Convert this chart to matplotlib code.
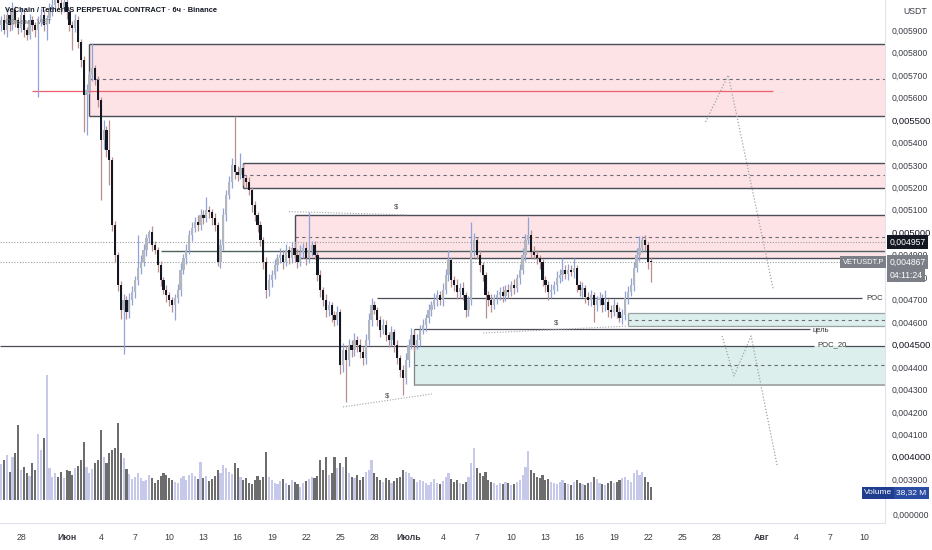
import matplotlib
matplotlib.use("Agg")
import matplotlib.pyplot as plt
import matplotlib.dates as mdates
from matplotlib.patches import Rectangle
from matplotlib.ticker import FixedLocator, FuncFormatter
import pandas as pd

plt.rcParams["font.family"] = ["Liberation Sans Narrow", "Liberation Sans", "DejaVu Sans"]

# 6h candles, prices in 1e-6 USDT
first_open = 5923
closes = [
    5945, 5901, 5968, 5923, 5990, 5945, 5910, 5968, 5901, 5879, 5945, 5923, 5901, 5937, 5968, 5923, 5954, 5990, 6012, 6034,
    6021, 5999, 6026, 5981, 5923, 5910, 5945, 5847, 5767, 5611, 5634, 5700, 5732, 5678, 5589, 5411, 5455, 5366, 5322, 5032,
    4899, 4765, 4654, 4698, 4645, 4698, 4734, 4787, 4841, 4868, 4921, 4974, 5001, 4943, 4921, 4854, 4787, 4743, 4720, 4698,
    4676, 4707, 4743, 4832, 4885, 4921, 4988, 5019, 5046, 5032, 5077, 5064, 5099, 5090, 5064, 5032, 4868, 4943, 5077, 5166,
    5224, 5300, 5268, 5255, 5286, 5242, 5224, 5188, 5121, 5077, 5032, 4966, 4868, 4743, 4787, 4810, 4854, 4885, 4899, 4868,
    4921, 4885, 4930, 4899, 4868, 4912, 4930, 4885, 4921, 4943, 4899, 4810, 4743, 4698, 4654, 4676, 4631, 4609, 4645, 4409,
    4476, 4431, 4498, 4476, 4520, 4498, 4467, 4440, 4520, 4609, 4676, 4654, 4609, 4565, 4587, 4542, 4520, 4556, 4498, 4440,
    4387, 4351, 4431, 4498, 4542, 4498, 4520, 4565, 4587, 4618, 4654, 4676, 4698, 4720, 4698, 4743, 4810, 4876, 4787, 4765,
    4734, 4752, 4720, 4654, 4698, 4921, 4966, 4899, 4854, 4810, 4720, 4698, 4676, 4707, 4720, 4734, 4716, 4743, 4734, 4765,
    4752, 4796, 4832, 4899, 4966, 4988, 4912, 4899, 4885, 4868, 4787, 4765, 4734, 4743, 4765, 4796, 4810, 4832, 4814, 4832,
    4823, 4841, 4765, 4743, 4752, 4712, 4698, 4720, 4676, 4698, 4707, 4676, 4689, 4654, 4645, 4676, 4645, 4618, 4631, 4707,
    4734, 4765, 4841, 4899, 4930, 4966, 4943, 4868, 4867,
]
upper_wick = [
    20, 25, 30, 20, 35, 20, 15, 30, 20, 15, 25, 20, 15, 25, 30, 20, 15, 30, 25, 40,
    25, 20, 30, 20, 15, 20, 25, 20, 15, 20, 25, 20, 111, 15, 20, 15, 45, 20, 134, 15,
    20, 15, 20, 25, 20, 30, 25, 20, 147, 30, 25, 20, 9, 25, 20, 15, 20, 15, 20, 15,
    15, 20, 25, 30, 20, 25, 20, 25, 20, 30, 25, 20, 58, 20, 15, 20, 15, 25, 30, 20,
    25, 30, 218, 25, 67, 20, 15, 20, 15, 20, 15, 20, 15, 20, 25, 20, 25, 20, 30, 20,
    25, 20, 25, 20, 25, 30, 20, 25, 169, 20, 20, 15, 20, 15, 25, 20, 15, 20, 25, 15,
    30, 20, 25, 20, 30, 20, 25, 20, 25, 30, 31, 20, 15, 20, 25, 20, 15, 25, 15, 20,
    15, 20, 30, 25, 30, 20, 25, 20, 25, 20, 25, 20, 30, 25, 20, 30, 25, 45, 15, 20,
    25, 20, 25, 15, 20, 125, 30, 15, 20, 15, 15, 20, 25, 20, 25, 20, 25, 20, 25, 20,
    25, 20, 25, 30, 25, 80, 20, 25, 20, 15, 15, 20, 20, 25, 20, 30, 25, 53, 20, 25,
    20, 44, 15, 20, 25, 15, 20, 25, 15, 20, 25, 20, 54, 15, 20, 25, 15, 20, 25, 30,
    25, 30, 25, 30, 53, 17, 20, 15, 20,
]
lower_wick = [
    25, 20, 30, 25, 20, 30, 25, 20, 30, 23, 20, 25, 30, 300, 20, 25, 67, 20, 25, 20,
    20, 25, 20, 30, 25, 98, 20, 25, 30, 164, 178, 20, 25, 20, 30, 267, 40, 30, 112, 25,
    30, 25, 40, 197, 30, 25, 20, 25, 20, 25, 20, 25, 20, 25, 20, 30, 25, 20, 30, 25,
    30, 67, 20, 25, 20, 25, 20, 25, 20, 25, 20, 25, 20, 25, 30, 25, 20, 25, 20, 25,
    20, 25, 30, 25, 20, 30, 25, 20, 30, 25, 30, 25, 30, 36, 25, 30, 20, 25, 20, 30,
    20, 25, 20, 30, 25, 20, 25, 30, 20, 25, 20, 25, 30, 25, 30, 25, 30, 25, 20, 40,
    30, 187, 25, 30, 25, 30, 25, 30, 25, 20, 25, 20, 25, 30, 20, 25, 30, 25, 30, 25,
    30, 76, 25, 30, 20, 25, 20, 25, 20, 25, 20, 25, 20, 25, 20, 25, 20, 25, 30, 25,
    30, 25, 20, 30, 25, 20, 25, 20, 30, 25, 102, 25, 30, 20, 25, 20, 25, 20, 25, 20,
    25, 20, 25, 20, 25, 20, 25, 20, 25, 30, 25, 30, 36, 25, 20, 25, 20, 25, 20, 25,
    20, 25, 30, 25, 30, 25, 20, 25, 76, 25, 20, 30, 25, 30, 25, 20, 25, 18, 25, 20,
    25, 20, 25, 20, 25, 20, 25, 30, 88,
]
volume_m = [
    108, 120, 135, 84, 129, 141, 225, 90, 100, 80, 72, 110, 90, 200, 150, 186, 375, 95, 68, 80,
    70, 84, 66, 90, 87, 75, 96, 102, 120, 174, 98, 80, 92, 110, 120, 210, 128, 110, 140, 150,
    156, 231, 140, 125, 92, 78, 62, 70, 82, 66, 56, 60, 75, 66, 52, 60, 72, 80, 75, 66,
    60, 55, 50, 66, 72, 60, 75, 82, 72, 62, 114, 66, 72, 56, 62, 72, 90, 80, 104, 95,
    84, 78, 110, 96, 70, 60, 65, 52, 48, 60, 72, 60, 70, 144, 70, 60, 52, 48, 56, 62,
    50, 45, 60, 55, 48, 40, 52, 58, 62, 70, 65, 72, 120, 90, 129, 75, 80, 129, 95, 110,
    100, 129, 80, 70, 65, 75, 60, 70, 85, 90, 120, 80, 70, 60, 55, 65, 60, 50, 58, 66,
    70, 90, 85, 80, 70, 62, 55, 60, 58, 50, 45, 55, 62, 50, 48, 56, 70, 80, 64, 55,
    60, 52, 48, 55, 70, 110, 156, 95, 80, 72, 85, 60, 55, 50, 46, 52, 48, 55, 50, 45,
    48, 55, 60, 75, 100, 147, 90, 80, 70, 65, 75, 60, 62, 55, 50, 48, 55, 60, 52, 48,
    45, 55, 60, 52, 48, 44, 50, 55, 70, 62, 50, 48, 45, 52, 58, 50, 55, 60, 65, 70,
    60, 55, 80, 90, 75, 85, 70, 55, 38.32,
]

price_ticks = [3900, 4000, 4100, 4200, 4300, 4400, 4500, 4600, 4700, 4800, 4900,
               5000, 5100, 5200, 5300, 5400, 5500, 5600, 5700, 5800, 5900]
round_ticks = [4000, 4500, 5000, 5500]

date_ticks = ["2019-05-28", "2019-06-01", "2019-06-04", "2019-06-07", "2019-06-10", "2019-06-13",
              "2019-06-16", "2019-06-19", "2019-06-22", "2019-06-25", "2019-06-28", "2019-07-01",
              "2019-07-04", "2019-07-07", "2019-07-10", "2019-07-13", "2019-07-16", "2019-07-19",
              "2019-07-22", "2019-07-25", "2019-07-28", "2019-08-01", "2019-08-04", "2019-08-07",
              "2019-08-10"]
date_labels = ["28", "Июн", "4", "7", "10", "13", "16", "19", "22", "25", "28", "Июль",
               "4", "7", "10", "13", "16", "19", "22", "25", "28", "Авг", "4", "7", "10"]

# zones: start, top, bottom, middle (dashed), fill
zones = [
    ("2019-06-03 00:00", 5838, 5518, 5683, "#fde3e5"),
    ("2019-06-16 12:00", 5308, 5197, 5255, "#fde3e5"),
    ("2019-06-21 00:00", 5077, 4887, 4981, "#fde3e5"),
    ("2019-07-20 06:00", 4640, 4584, 4611, "#dcefec"),
    ("2019-07-01 12:00", 4495, 4320, 4409, "#dcefec"),
]

top_liq = (["2019-06-20 12:00", "2019-07-01 00:00"], [5092, 5077], ("2019-06-29 22:00", 5112))
low_liq = (["2019-06-25 06:00", "2019-07-03 01:00"], [4222, 4280], ("2019-06-29 02:00", 4271))
mid_liq = (["2019-07-07 13:00", "2019-07-20 04:00"], [4551, 4582], ("2019-07-13 22:00", 4596))

path_up = (["2019-07-27 01:00", "2019-07-29 01:00", "2019-08-02 00:00"], [5491, 5700, 4743])
path_down = (["2019-07-28 12:00", "2019-07-29 13:00", "2019-07-31 01:00", "2019-08-02 08:00"],
             [4538, 4360, 4538, 3959])

times = pd.date_range("2019-05-26 06:00", periods=len(closes), freq="6h")
opens = [first_open] + closes[:-1]
highs = [max(o, c) + w for o, c, w in zip(opens, closes, upper_wick)]
lows = [min(o, c) - w for o, c, w in zip(opens, closes, lower_wick)]
up = [c >= o for o, c in zip(opens, closes)]

fig = plt.figure(figsize=(9.32, 5.5), dpi=100)
fig.patch.set_facecolor("white")
ax_w = 885 / 932
vol_ax = fig.add_axes([0, 50 / 550, ax_w, 125 / 550])
ax = fig.add_axes([0, 27 / 550, ax_w, 523 / 550])
ax.set_facecolor("none")

x0 = mdates.date2num(pd.Timestamp("2019-05-28"))
xlim = (x0 - 1.842, x0 + 75.79)
ax.set_xlim(xlim)
ax.set_ylim(3705, 6034.5)
vol_ax.set_xlim(xlim)
vol_ax.set_ylim(0, 376)
vol_ax.axis("off")

# volume
vol_colors = ["#c6c9ea" if u else "#6d6d6d" for u in up]
vol_ax.bar(times, volume_m, width=0.19, color=vol_colors, linewidth=0)

# zones
edge = "#4a4d57"
for start, top, bottom, mid, fill in zones:
    s = mdates.date2num(pd.Timestamp(start))
    ax.add_patch(Rectangle((s, bottom), xlim[1] + 5 - s, top - bottom, facecolor=fill,
                           edgecolor="none", zorder=0.5))
    ax.hlines([mid], s, xlim[1], colors="#6a6d78", linestyles=(0, (3, 3)), lw=0.8, zorder=1)
big_edge = [
    ("2019-06-03 00:00", 5838, 5518), ("2019-06-16 12:00", 5308, 5197), ("2019-06-21 00:00", 5077, 4887),
]
for start, top, bottom in big_edge:
    s = mdates.date2num(pd.Timestamp(start))
    ax.hlines([top, bottom], s, xlim[1], colors=edge, lw=1.0, zorder=1)
    ax.vlines(s, bottom, top, colors=edge, lw=1.0, zorder=1)

# green zones borders
g1 = mdates.date2num(pd.Timestamp("2019-07-20 06:00"))
ax.hlines([4640, 4584], g1, xlim[1], colors="#9aa3a3", lw=0.9, zorder=1)
ax.vlines(g1, 4584, 4640, colors="#9aa3a3", lw=0.9, zorder=1)
g2 = mdates.date2num(pd.Timestamp("2019-07-01 12:00"))
ax.hlines([4320], g2, xlim[1], colors="#a7abab", lw=1.4, zorder=1)
ax.vlines(g2, 4320, 4568, colors="#7f8585", lw=0.9, zorder=1)

# level lines
d = lambda s: mdates.date2num(pd.Timestamp(s))
ax.hlines(5629, d("2019-05-29"), d("2019-08-02"), colors="#ef5f6c", lw=0.9, zorder=1.2)
ax.hlines(4917, d("2019-06-09 06:00"), xlim[1], colors="#4f6360", lw=1.0, zorder=1)
ax.hlines(4707, d("2019-06-28 06:00"), d("2019-08-09 18:00"), colors=edge, lw=0.9, zorder=1)
ax.hlines(4568, d("2019-07-01 12:00"), d("2019-08-05 05:00"), colors=edge, lw=0.9, zorder=1)
ax.hlines(4495, xlim[0], d("2019-08-05 14:00"), colors=edge, lw=0.9, zorder=1)
ax.hlines(4495, d("2019-08-08 06:00"), xlim[1], colors=edge, lw=0.9, zorder=1)
ax.text(d("2019-08-10 03:00"), 4707, "POC", fontsize=5.5, color="#333", va="center", ha="left")
ax.text(d("2019-08-05 11:00"), 4562, "цель", fontsize=5.5, color="#333", va="center", ha="left")
ax.text(d("2019-08-05 21:00"), 4497, "POC_20", fontsize=5.5, color="#333", va="center", ha="left")

# last price / current lines
ax.hlines([4957, 4867], xlim[0], xlim[1], colors="#9a9ca4", linestyles=(0, (1, 1.5)), lw=0.8, zorder=1)

# liquidity marks
for xs, ys, (tx, ty) in (top_liq, low_liq, mid_liq):
    ax.plot(pd.to_datetime(xs), ys, color="#a0a3ab", ls=(0, (1, 1.5)), lw=0.8, zorder=1.5)
    ax.text(pd.Timestamp(tx), ty, "$", fontsize=5.5, color="#444", ha="center", va="center")

# projection paths
for xs, ys in (path_up, path_down):
    ax.plot(pd.to_datetime(xs), ys, color="#a0a3ab", ls=(0, (1, 1.5)), lw=0.9, zorder=1.5)

# candles
wick_colors = ["#8ea3dd" if u else "#b88e8e" for u in up]
body_colors = ["#b4b6bd" if u else "#131722" for u in up]
ax.vlines(times, lows, highs, colors=wick_colors, lw=0.9, zorder=2)
bottoms = [min(o, c) for o, c in zip(opens, closes)]
heights = [max(abs(c - o), 4) for o, c in zip(opens, closes)]
ax.bar(times, heights, bottom=bottoms, width=0.2, color=body_colors, linewidth=0, zorder=3)

# axes styling
for s in ("top", "left"):
    ax.spines[s].set_visible(False)
ax.spines["right"].set_color("#e0e3eb")
ax.spines["bottom"].set_color("#e0e3eb")
ax.yaxis.tick_right()
ax.yaxis.set_major_locator(FixedLocator(price_ticks))
ax.yaxis.set_major_formatter(FuncFormatter(lambda v, p: "0,%06d" % int(round(v))))
ax.tick_params(axis="y", length=0, pad=5, labelsize=6.2, labelcolor="#3a3d45")
for lab, v in zip(ax.get_yticklabels(), price_ticks):
    if v in round_ticks:
        lab.set_color("#131722")
        lab.set_fontsize(6.8)
ax.set_xticks(pd.to_datetime(date_ticks))
ax.set_xticklabels(date_labels)
ax.tick_params(axis="x", length=0, pad=7, labelsize=6.3, labelcolor="#3a3d45")
for lab, txt in zip(ax.get_xticklabels(), date_labels):
    if not txt.isdigit():
        lab.set_fontweight("bold")

# price labels on axis
yt = ax.get_yaxis_transform()
ax.text(1.005, 4957, "0,004957", transform=yt, fontsize=6.2, color="white", va="center", ha="left",
        bbox=dict(boxstyle="square,pad=0.3", fc="#131722", ec="none"), clip_on=False, zorder=10)
ax.text(1.005, 4867, "0,004867", transform=yt, fontsize=6.2, color="white", va="center", ha="left",
        bbox=dict(boxstyle="square,pad=0.3", fc="#7c7f88", ec="none"), clip_on=False, zorder=10)
ax.text(1.005, 4809, "04:11:24", transform=yt, fontsize=6.2, color="white", va="center", ha="left",
        bbox=dict(boxstyle="square,pad=0.3", fc="#7c7f88", ec="none"), clip_on=False, zorder=10)
ax.text(0.999, 4867, "VETUSDT.P", transform=yt, fontsize=5.4, color="white", va="center", ha="right",
        bbox=dict(boxstyle="square,pad=0.3", fc="#7c7f88", ec="none"), clip_on=False, zorder=10)

fig.text(903 / 932, 1 - 12 / 550, "USDT", fontsize=6.3, color="#3a3d45", va="center")
fig.text(893 / 932, 1 - 515 / 550, "0,000000", fontsize=6.2, color="#3a3d45", va="center")
fig.text(864 / 932, 1 - 493 / 550, "Volume", fontsize=6, color="white", va="center",
         bbox=dict(boxstyle="square,pad=0.3", fc="#1f3d8f", ec="none"))
fig.text(896 / 932, 1 - 493 / 550, "38,32 M", fontsize=6, color="white", va="center",
         bbox=dict(boxstyle="square,pad=0.3", fc="#2a4ca3", ec="none"))

fig.text(5 / 932, 1 - 11 / 550, "VeChain / TetherUS PERPETUAL CONTRACT · 6ч · Binance",
         fontsize=5.4, color="#131722", va="center", fontweight="bold")
fig.text(5 / 932, 1 - 23 / 550, "Объем · VET", fontsize=5.6, color="#787b86", va="center")

fig.savefig("out.png", dpi=100, facecolor="white")
